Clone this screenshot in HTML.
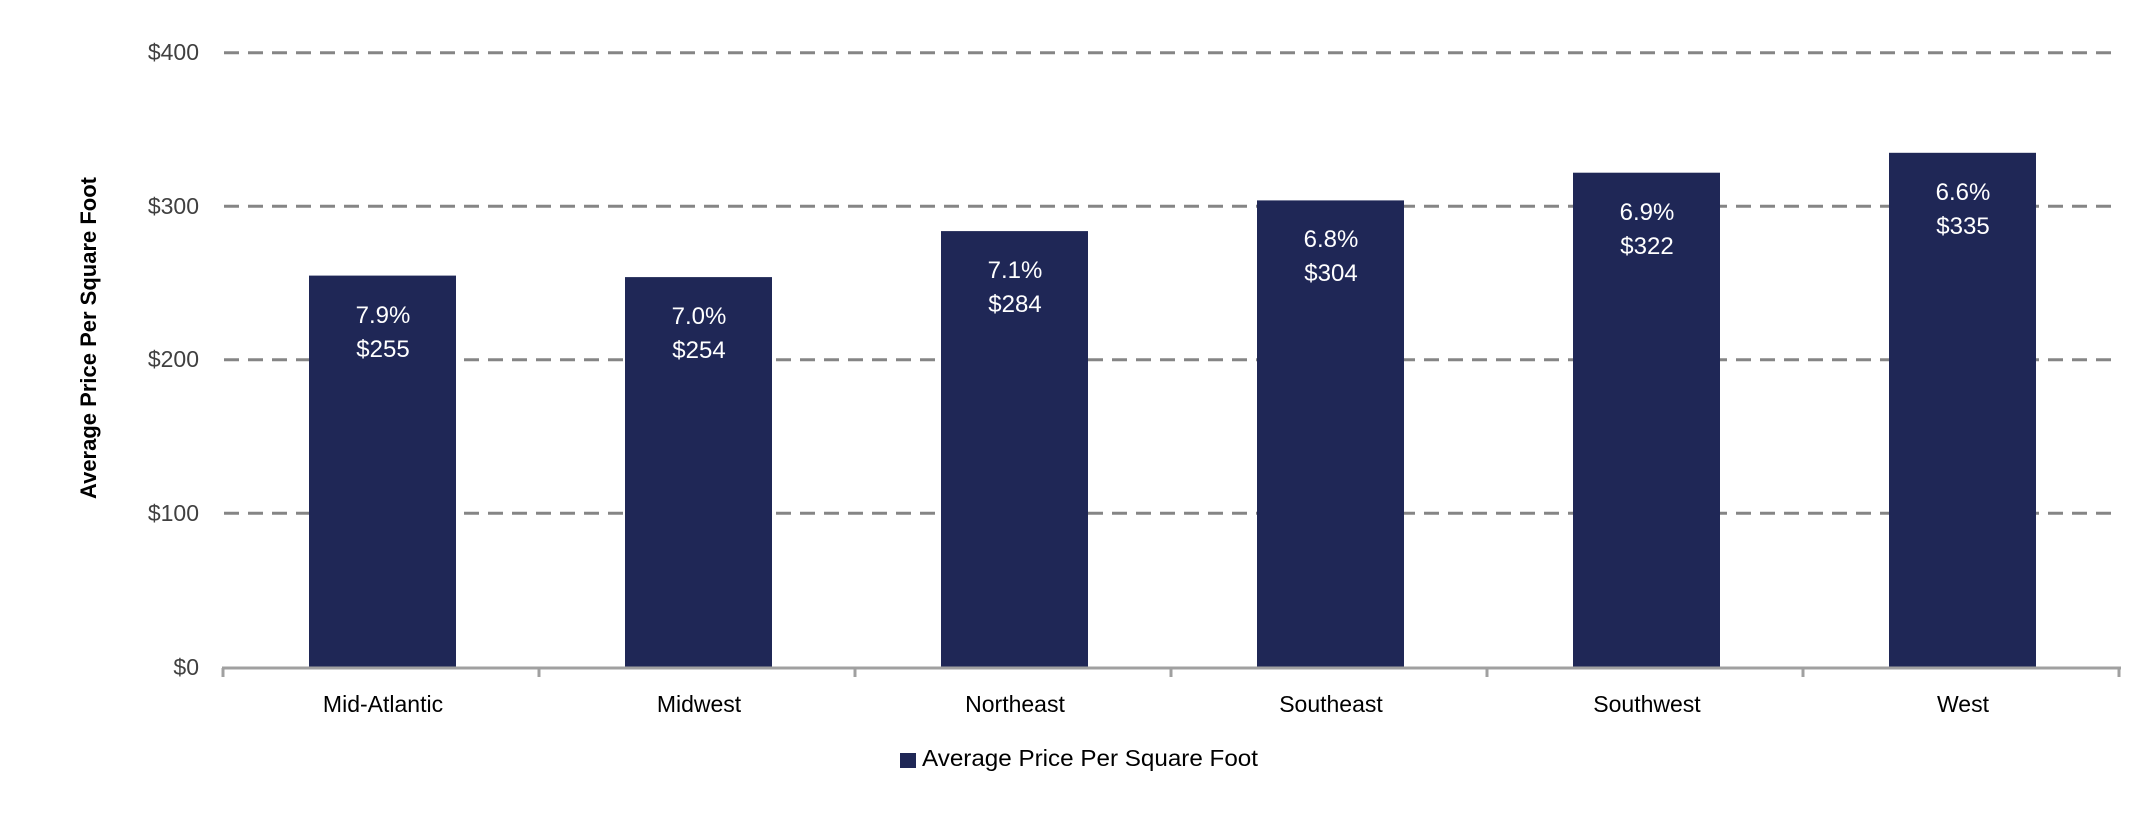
<!DOCTYPE html>
<html><head><meta charset="utf-8"><style>
html,body{margin:0;padding:0;background:#fff;}
svg{display:block;}
text{font-family:"Liberation Sans",sans-serif;}
</style></head><body>
<svg width="2145" height="825" viewBox="0 0 2145 825" xmlns="http://www.w3.org/2000/svg">
<g stroke="#858585" stroke-width="3" stroke-dasharray="15 9">
<line x1="224" y1="52.7" x2="2120" y2="52.7"/>
<line x1="224" y1="206.2" x2="2120" y2="206.2"/>
<line x1="224" y1="359.7" x2="2120" y2="359.7"/>
<line x1="224" y1="513.2" x2="2120" y2="513.2"/>
</g>
<g font-size="23" fill="#404040" text-anchor="end">
<text x="199" y="60">$400</text>
<text x="199" y="214">$300</text>
<text x="199" y="367">$200</text>
<text x="199" y="521">$100</text>
<text x="199" y="675">$0</text>
</g>
<text transform="translate(96,338) rotate(-90)" font-size="22" font-weight="bold" fill="#000" text-anchor="middle">Average Price Per Square Foot</text>
<g fill="#1F2756">
<rect x="309" y="275.6" width="147" height="391.4"/>
<rect x="625" y="277.1" width="147" height="389.9"/>
<rect x="941" y="231.1" width="147" height="435.9"/>
<rect x="1257" y="200.4" width="147" height="466.6"/>
<rect x="1573" y="172.7" width="147" height="494.3"/>
<rect x="1889" y="152.8" width="147" height="514.2"/>
</g>
<g fill="#fff" font-size="24" text-anchor="middle">
<text x="383" y="323">7.9%</text><text x="383" y="357">$255</text>
<text x="699" y="324">7.0%</text><text x="699" y="358">$254</text>
<text x="1015" y="278">7.1%</text><text x="1015" y="312">$284</text>
<text x="1331" y="247">6.8%</text><text x="1331" y="281">$304</text>
<text x="1647" y="220">6.9%</text><text x="1647" y="254">$322</text>
<text x="1963" y="200">6.6%</text><text x="1963" y="234">$335</text>
</g>
<g stroke="#A0A0A0" stroke-width="3">
<line x1="222" y1="668" x2="2121" y2="668"/>
<line x1="223" y1="668" x2="223" y2="677"/>
<line x1="539" y1="668" x2="539" y2="677"/>
<line x1="855" y1="668" x2="855" y2="677"/>
<line x1="1171" y1="668" x2="1171" y2="677"/>
<line x1="1487" y1="668" x2="1487" y2="677"/>
<line x1="1803" y1="668" x2="1803" y2="677"/>
<line x1="2119" y1="668" x2="2119" y2="677"/>
</g>
<g font-size="23" fill="#000" text-anchor="middle">
<text x="383" y="712">Mid-Atlantic</text>
<text x="699" y="712">Midwest</text>
<text x="1015" y="712">Northeast</text>
<text x="1331" y="712">Southeast</text>
<text x="1647" y="712">Southwest</text>
<text x="1963" y="712">West</text>
</g>
<rect x="900" y="753" width="16" height="15" fill="#1F2756"/>
<text x="922" y="766" font-size="23" fill="#000" textLength="336" lengthAdjust="spacingAndGlyphs">Average Price Per Square Foot</text>
</svg>
</body></html>
